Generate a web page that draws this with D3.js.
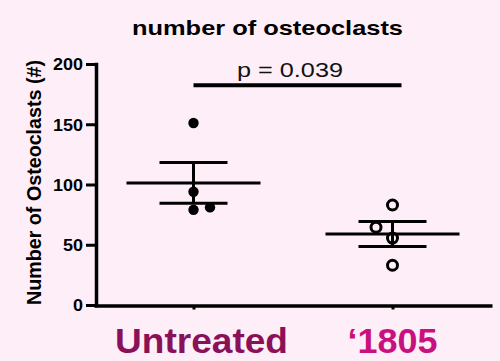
<!DOCTYPE html>
<html>
<head>
<meta charset="utf-8">
<script src="https://cdn.jsdelivr.net/npm/d3@7/dist/d3.min.js"></script>
<style>
  html, body { margin: 0; padding: 0; background: #FEEEF8; }
  svg { display: block; font-family: "Liberation Sans", Arial, sans-serif; }
</style>
</head>
<body>
<svg id="chart" width="500" height="361"></svg>
<script>
// Group names and per-animal osteoclast counts
const categories = ["Untreated", "\u20181805"];
const categoryColors = ["#8A1159", "#C8117F"];
const untreatedValues = [151, 94, 79, 81];
const treatedValues = [83, 64.5, 55.5, 33];
// Scatter column of each point (0 = centre, +1 right, -1 left) to separate overlapping dots
const untreatedColumns = [0, 0, 0, 1];
const treatedColumns = [0, -1, 0, 0];
const yTicks = [0, 50, 100, 150, 200];
const titleText = "number of osteoclasts";
const yLabelText = "Number of Osteoclasts (#)";
const pText = "p = 0.039";

const groups = [
  { name: categories[0], values: untreatedValues, cols: untreatedColumns, filled: true },
  { name: categories[1], values: treatedValues, cols: treatedColumns, filled: false }
];
groups.forEach(g => {
  const n = g.values.length;
  g.mean = d3.mean(g.values);
  g.sem = d3.deviation(g.values) / Math.sqrt(n);
});

const svg = d3.select("#chart");

const y = d3.scaleLinear().domain([0, 200]).range([305, 64]);
const x = d3.scalePoint().domain(categories).range([94, 492]).padding(0.5);

// Y axis
const yAxis = svg.append("g")
  .attr("transform", "translate(96,0)")
  .call(d3.axisLeft(y).tickValues(yTicks).tickSize(10).tickSizeOuter(0).tickPadding(3));
yAxis.select(".domain").attr("stroke", "#000").attr("stroke-width", 3.5).attr("stroke-linecap", "square");
yAxis.selectAll(".tick line").attr("stroke", "#000").attr("stroke-width", 3);
yAxis.selectAll(".tick text")
  .attr("fill", "#000")
  .style("font-size", "16px")
  .style("font-weight", "bold")
  .attr("dy", "0.36em")
  .attr("textLength", d => String(d).length * 10)
  .attr("lengthAdjust", "spacingAndGlyphs");

// X axis
const xAxis = svg.append("g")
  .attr("transform", "translate(0,305.5)")
  .call(d3.axisBottom(x).tickSize(4).tickSizeOuter(0).tickFormat(""));
xAxis.select(".domain").attr("stroke", "#000").attr("stroke-width", 3.5);
xAxis.selectAll(".tick line").attr("stroke", "#000").attr("stroke-width", 3);

// Category labels
const catWidths = [173, 90];
svg.append("g").selectAll("text")
  .data(categories)
  .join("text")
  .attr("x", (d, i) => x(d) + (i === 0 ? 8 : 0))
  .attr("y", 353)
  .attr("text-anchor", "middle")
  .attr("fill", (d, i) => categoryColors[i])
  .style("font-size", "35px")
  .style("font-weight", "bold")
  .attr("textLength", (d, i) => catWidths[i])
  .attr("lengthAdjust", "spacingAndGlyphs")
  .text(d => d);

// Mean and SEM bars
const meanHalf = 67, capHalf = 34;
const stats = svg.append("g").attr("stroke", "#000").attr("stroke-width", 3);
groups.forEach(g => {
  const cx = x(g.name);
  stats.append("line")
    .attr("x1", cx).attr("x2", cx)
    .attr("y1", y(g.mean + g.sem)).attr("y2", y(g.mean - g.sem));
  stats.append("line")
    .attr("x1", cx - meanHalf).attr("x2", cx + meanHalf)
    .attr("y1", y(g.mean)).attr("y2", y(g.mean));
  [g.mean + g.sem, g.mean - g.sem].forEach(v => {
    stats.append("line")
      .attr("x1", cx - capHalf).attr("x2", cx + capHalf)
      .attr("y1", y(v)).attr("y2", y(v));
  });
});

// Individual points
const colStep = 16.5;
groups.forEach(g => {
  svg.append("g").selectAll("circle")
    .data(g.values.map((v, i) => ({ v, c: g.cols[i] })))
    .join("circle")
    .attr("cx", d => x(g.name) + d.c * colStep)
    .attr("cy", d => y(d.v))
    .attr("r", g.filled ? 5.2 : 5)
    .attr("fill", g.filled ? "#000" : "none")
    .attr("stroke", g.filled ? "none" : "#000")
    .attr("stroke-width", 3);
});

// Significance bar and p value
svg.append("line")
  .attr("x1", x(categories[0])).attr("x2", x(categories[1]) + 9)
  .attr("y1", 85.3).attr("y2", 85.3)
  .attr("stroke", "#000").attr("stroke-width", 4);
svg.append("text")
  .attr("x", 290).attr("y", 77)
  .attr("text-anchor", "middle")
  .attr("fill", "#111")
  .style("font-size", "21px")
  .attr("textLength", 106)
  .attr("lengthAdjust", "spacingAndGlyphs")
  .text(pText);

// Title
svg.append("text")
  .attr("x", 267.5).attr("y", 35)
  .attr("text-anchor", "middle")
  .attr("fill", "#000")
  .style("font-size", "20.5px")
  .style("font-weight", "bold")
  .attr("textLength", 271)
  .attr("lengthAdjust", "spacingAndGlyphs")
  .text(titleText);

// Y axis title
svg.append("text")
  .attr("transform", "translate(41,182.5) rotate(-90)")
  .attr("text-anchor", "middle")
  .attr("fill", "#000")
  .style("font-size", "19.5px")
  .style("font-weight", "bold")
  .attr("textLength", 245)
  .attr("lengthAdjust", "spacingAndGlyphs")
  .text(yLabelText);
</script>
</body>
</html>
